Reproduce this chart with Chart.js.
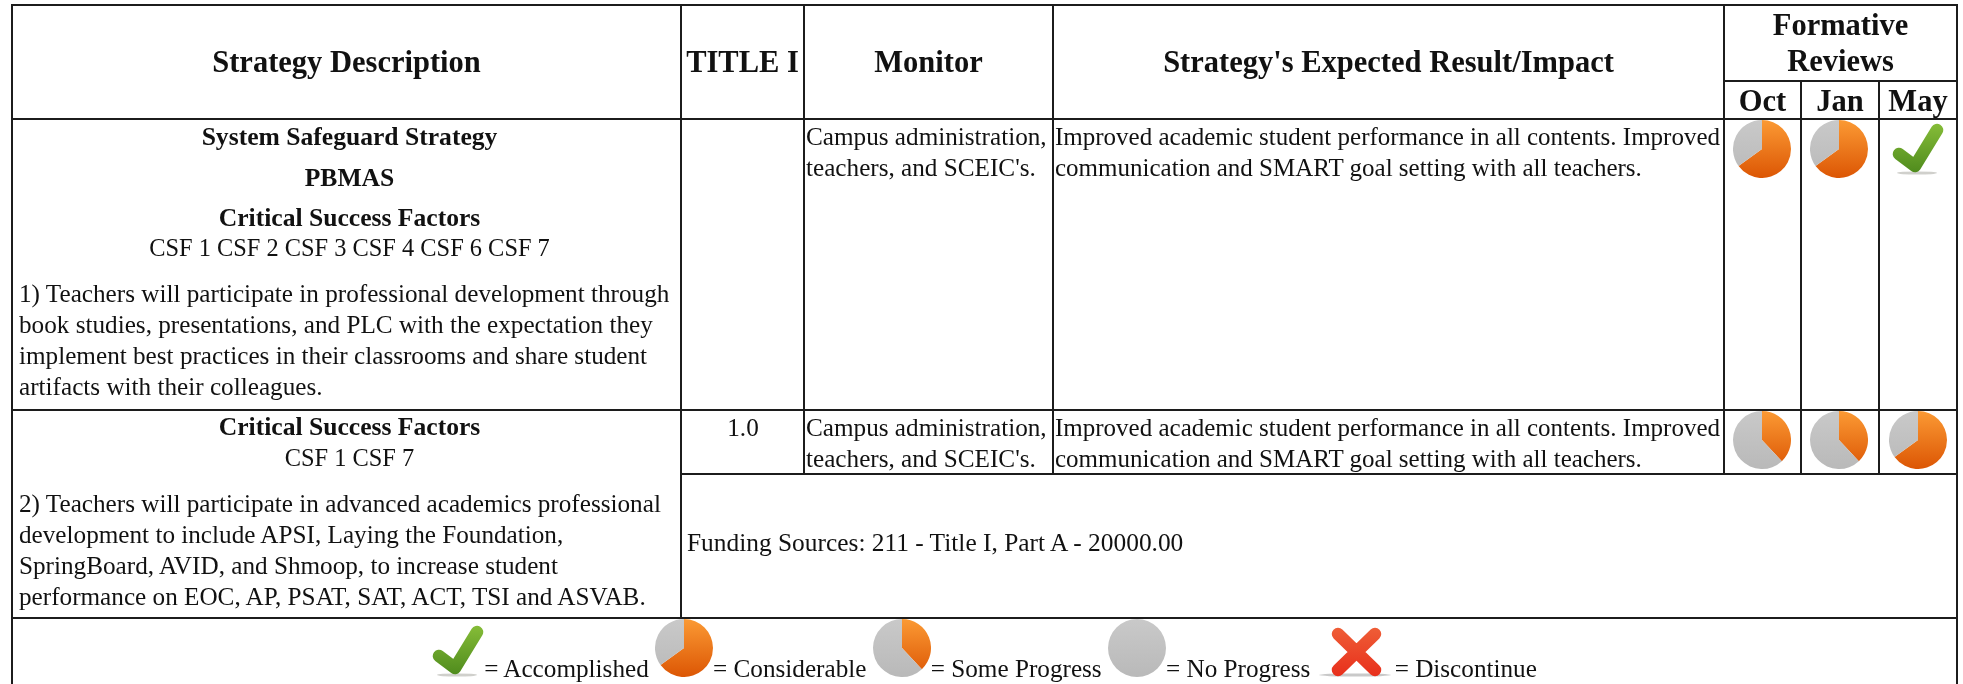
<!DOCTYPE html>
<html>
<head>
<meta charset="utf-8">
<title>Formative Reviews</title>
<script src="https://cdn.jsdelivr.net/npm/chart.js@4"></script>
<style>
html, body { margin: 0; padding: 0; background: #fff; overflow: hidden; width: 1963px; height: 684px; }
table {
    position: absolute; left: 11px; top: 4px;
    border-collapse: collapse; table-layout: fixed; width: 1947px;
    font-family: "Liberation Serif", serif; font-size: 25.2px; line-height: 31px; color: #111;
    filter: blur(0.4px);
}
th, td { border: 2px solid #1c1c1c; padding: 0; vertical-align: top; overflow: hidden; }
th { font-size: 30.5px; line-height: 36px; vertical-align: middle; text-align: center; }
#months th { line-height: 33px; padding-top: 3px; }
td p { margin: 0; }
.left { padding: 0 0 0 6px; }
.center { text-align: center; }
.bold { font-weight: bold; font-size: 25.6px; }
.csf { font-size: 24.4px; }
.text { padding: 1px 0 0 1px; white-space: nowrap; }
.text div { height: 61px; }
.impact { font-size: 25px; }
canvas { display: block; margin: 0 auto; }
.nudge canvas { position: relative; left: -1px; }
.legend { text-align: center; white-space: nowrap; height: 66px; border-bottom: none; }
.legend canvas { display: inline-block !important; vertical-align: baseline; margin: 0; }
</style>
</head>
<body>
<table>
<colgroup>
    <col style="width:669px"><col style="width:123px"><col style="width:249px"><col style="width:671px">
    <col style="width:77px"><col style="width:78px"><col style="width:78px">
</colgroup>
<tr style="height:76px">
    <th rowspan="2">Strategy Description</th>
    <th rowspan="2">TITLE I</th>
    <th rowspan="2">Monitor</th>
    <th rowspan="2">Strategy's Expected Result/Impact</th>
    <th colspan="3">Formative<br>Reviews</th>
</tr>
<tr id="months" style="height:38px"></tr>
<tr style="height:291px">
    <td class="left">
        <p class="center bold" style="margin-top:1px">System Safeguard Strategy</p>
        <p class="center bold" style="margin-top:10px">PBMAS</p>
        <p class="center bold" style="margin-top:9px">Critical Success Factors</p>
        <p class="center csf" style="margin-top:-1px">CSF 1 CSF 2 CSF 3 CSF 4 CSF 6 CSF 7</p>
        <p style="margin-top:15px; white-space:nowrap">1) Teachers will participate in professional development through<br>book studies, presentations, and PLC with the expectation they<br>implement best practices in their classrooms and share student<br>artifacts with their colleagues.</p>
    </td>
    <td></td>
    <td class="text">Campus administration,<br>teachers, and SCEIC's.</td>
    <td class="text impact">Improved academic student performance in all contents. Improved<br>communication and SMART goal setting with all teachers.</td>
    <td class="nudge"><canvas id="r1_0" width="58" height="58"></canvas></td>
    <td class="nudge"><canvas id="r1_1" width="58" height="58"></canvas></td>
    <td><canvas id="r1_2" width="58" height="58"></canvas></td>
</tr>
<tr style="height:64px">
    <td class="left" rowspan="2">
        <p class="center bold">Critical Success Factors</p>
        <p class="center csf">CSF 1 CSF 7</p>
        <p style="margin-top:15px; white-space:nowrap">2) Teachers will participate in advanced academics professional<br>development to include APSI, Laying the Foundation,<br>SpringBoard, AVID, and Shmoop, to increase student<br>performance on EOC, AP, PSAT, SAT, ACT, TSI and ASVAB.</p>
    </td>
    <td class="center text">1.0</td>
    <td class="text"><div>Campus administration,<br>teachers, and SCEIC's.</div></td>
    <td class="text impact"><div>Improved academic student performance in all contents. Improved<br>communication and SMART goal setting with all teachers.</div></td>
    <td class="nudge"><canvas id="r2_0" width="58" height="58"></canvas></td>
    <td class="nudge"><canvas id="r2_1" width="58" height="58"></canvas></td>
    <td><canvas id="r2_2" width="58" height="58"></canvas></td>
</tr>
<tr style="height:144px">
    <td colspan="6" style="vertical-align:middle; padding:0 0 7px 5px; font-size:25.4px">Funding Sources: 211 - Title I, Part A - 20000.00</td>
</tr>
<tr>
    <td colspan="7" class="legend"><canvas id="lg_done" width="52" height="52"></canvas><span>= Accomplished </span><canvas id="lg_most" width="58" height="58"></canvas><span>= Considerable </span><canvas id="lg_some" width="58" height="58"></canvas><span>= Some Progress </span><canvas id="lg_none" width="58" height="58"></canvas><span>= No Progress </span><canvas id="lg_stop" width="76" height="52" style="margin-right:2px"></canvas><span>= Discontinue</span></td>
</tr>
</table>

<script>
const reviewMonths = ["Oct", "Jan", "May"];
const sliceLabels = ["Done", "Remaining"];

const considerable = [65, 35];
const someProgress = [38, 62];
const noProgress = [0, 100];

const row1Reviews = ["considerable", "considerable", "accomplished"];
const row2Reviews = ["some", "some", "considerable"];

const pieValues = {considerable: considerable, some: someProgress, none: noProgress};

let monthRow = document.getElementById("months");
reviewMonths.forEach(function(m) {
    let th = document.createElement("th");
    th.textContent = m;
    monthRow.appendChild(th);
});

function sliceColor(context) {
    let top = context.dataIndex == 0 ? "#fb9a34" : "#c9c9c9";
    let bottom = context.dataIndex == 0 ? "#dc5604" : "#b9b9b9";
    let area = context.chart.chartArea;
    if (!area) return top;
    let g = context.chart.ctx.createLinearGradient(0, area.top, 0, area.bottom);
    g.addColorStop(0, top);
    g.addColorStop(1, bottom);
    return g;
}

function drawPie(id, values) {
    new Chart(document.getElementById(id), {
        type: "pie",
        data: {
            labels: sliceLabels,
            datasets: [{data: values, borderWidth: 0, backgroundColor: sliceColor}]
        },
        options: {
            responsive: false,
            animation: false,
            events: [],
            plugins: {legend: {display: false}, tooltip: {enabled: false}}
        }
    });
}

// check and cross icons go in as point styles of a one point scatter
function checkIcon() {
    let c = document.createElement("canvas");
    c.width = 52; c.height = 52;
    let x = c.getContext("2d");
    x.fillStyle = "rgba(120,120,110,0.35)";
    x.beginPath(); x.ellipse(25, 50, 20, 1.6, 0, 0, 7); x.fill();
    let g = x.createLinearGradient(0, 0, 0, 50);
    g.addColorStop(0, "#86bd38");
    g.addColorStop(1, "#4f8b1d");
    x.strokeStyle = g;
    x.lineWidth = 12.5;
    x.lineCap = "round";
    x.lineJoin = "round";
    x.beginPath(); x.moveTo(7, 31); x.lineTo(23, 43); x.lineTo(45, 7); x.stroke();
    return c;
}

function crossIcon() {
    let c = document.createElement("canvas");
    c.width = 76; c.height = 52;
    let x = c.getContext("2d");
    x.fillStyle = "rgba(120,120,120,0.4)";
    x.beginPath(); x.ellipse(38, 50, 36, 1.6, 0, 0, 7); x.fill();
    let g = x.createLinearGradient(0, 0, 0, 50);
    g.addColorStop(0, "#ef6038");
    g.addColorStop(1, "#e8301c");
    x.strokeStyle = g;
    x.lineWidth = 12.5;
    x.lineCap = "round";
    x.beginPath(); x.moveTo(21, 9); x.lineTo(58, 45); x.moveTo(58, 9); x.lineTo(21, 45); x.stroke();
    return c;
}

function drawIcon(id, icon) {
    new Chart(document.getElementById(id), {
        type: "scatter",
        data: {datasets: [{data: [{x: 0, y: 0}], pointStyle: icon, clip: false}]},
        options: {
            responsive: false,
            animation: false,
            events: [],
            scales: {
                x: {display: false, min: -1, max: 1},
                y: {display: false, min: -1, max: 1}
            },
            plugins: {legend: {display: false}, tooltip: {enabled: false}}
        }
    });
}

function drawReview(id, status) {
    if (status == "accomplished") drawIcon(id, checkIcon());
    else drawPie(id, pieValues[status]);
}

row1Reviews.forEach((s, i) => drawReview("r1_" + i, s));
row2Reviews.forEach((s, i) => drawReview("r2_" + i, s));

drawIcon("lg_done", checkIcon());
drawPie("lg_most", considerable);
drawPie("lg_some", someProgress);
drawPie("lg_none", noProgress);
drawIcon("lg_stop", crossIcon());
</script>
</body>
</html>
